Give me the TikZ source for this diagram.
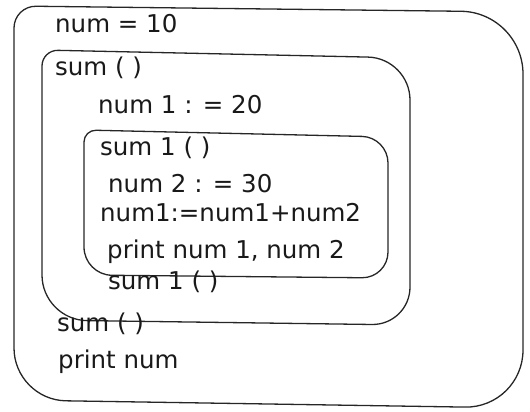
\documentclass[tikz,border=0pt]{standalone}
\usepackage{fontspec}
\setmainfont{DejaVu Sans}
\begin{document}
\begin{tikzpicture}[x=1pt,y=-1pt,
  code/.style={anchor=base west,inner sep=0pt,font=\fontsize{24.5}{28}\selectfont,text=black!90},
  frame/.style={line width=1.3pt,draw=black!85}]
\useasboundingbox (0,0) rectangle (530,412);
% outer box
\draw[frame] (14,200) [rounded corners=22] -- (14,6) [rounded corners=62] -- (523,12) [rounded corners=58] -- (523,408) [rounded corners=52] -- (14,400) [sharp corners] -- cycle;
% middle box
\draw[frame] (42,200) [rounded corners=16] -- (42,50) [rounded corners=42] -- (410,58) [rounded corners=38] -- (410,325) [rounded corners=45] -- (42,320) [sharp corners] -- cycle;
% inner box
\draw[frame] (84,200) [rounded corners=12] -- (84,130) [rounded corners=26] -- (388,137) [rounded corners=26] -- (388,278) [rounded corners=28] -- (84,275) [sharp corners] -- cycle;
\node[code] (t1) at (55,33) {num = 10};
\node[code] (t2) at (55,75) {sum ( )};
\node[code] (t3) at (98,113) {num 1 : = 20};
\node[code] (t4) at (100,155) {sum 1 ( )};
\node[code] (t5) at (108,192) {num 2 : = 30};
\node[code] (t6) at (100,221) {num1:=num1+num2};
\node[code] (t7) at (107,258) {print num 1, num 2};
\node[code] (t8) at (108,289) {sum 1 ( )};
\node[code] (t9) at (57,331) {sum ( )};
\node[code] (t10) at (58,368) {print num};
\end{tikzpicture}
\end{document}
